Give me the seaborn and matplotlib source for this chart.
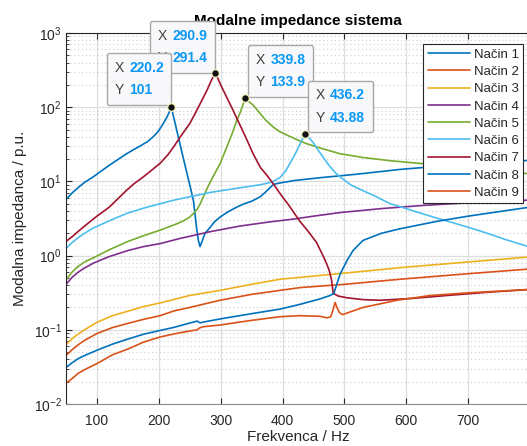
import matplotlib
matplotlib.use("Agg")
import matplotlib.pyplot as plt
import seaborn as sns
from matplotlib.ticker import LogLocator
from matplotlib.offsetbox import TextArea, HPacker, VPacker, AnnotationBbox

# --- data (frequency in Hz, impedance in p.u.) ---
labels = ["Način 1", "Način 2", "Način 3", "Način 4", "Način 5",
          "Način 6", "Način 7", "Način 8", "Način 9"]

n1_f = [50, 60, 70, 80, 94, 107, 120, 135, 148, 160, 170, 182, 191, 198, 205, 209, 213, 217, 220.2,
        230, 240, 250, 256, 261, 264, 266.7, 270.4, 274.8, 283, 290, 299, 312, 326, 338, 350, 364,
        375, 385, 395, 420, 460, 520, 590, 660, 740, 800]
n1_z = [5.7, 7.0, 8.3, 9.7, 11.5, 13.8, 16.5, 20, 23.6, 27, 30, 34.5, 40, 46, 56, 64, 73, 86, 101,
        45, 20, 9, 5.5, 2.4, 1.6, 1.32, 1.6, 2.0, 2.4, 2.85, 3.3, 3.9, 4.5, 5.0, 5.4, 6.2,
        7.5, 9.1, 9.5, 10.3, 11.2, 12.5, 14.5, 16.2, 18, 19.2]

n2_f = [50, 60, 70, 80, 100, 125, 150, 175, 202, 225, 250, 299, 350, 396, 428, 500, 590, 700, 800]
n2_z = [0.045, 0.054, 0.063, 0.072, 0.089, 0.107, 0.122, 0.138, 0.155, 0.18, 0.2, 0.25, 0.3, 0.34,
        0.37, 0.41, 0.48, 0.57, 0.66]

n3_f = [50, 60, 70, 80, 100, 125, 150, 175, 202, 250, 299, 350, 396, 500, 600, 700, 800]
n3_z = [0.063, 0.076, 0.088, 0.1, 0.126, 0.155, 0.178, 0.205, 0.23, 0.29, 0.34, 0.41, 0.48, 0.58,
        0.7, 0.82, 0.96]

n4_f = [50, 60, 70, 80, 94, 120, 150, 175, 202, 234, 260, 283, 331, 380, 417, 450, 493, 560, 628,
        700, 800]
n4_z = [0.41, 0.51, 0.6, 0.68, 0.79, 0.97, 1.17, 1.32, 1.45, 1.7, 1.9, 2.1, 2.5, 2.85, 3.1, 3.4,
        3.8, 4.3, 4.75, 5.15, 5.6]

n5_f = [50, 60, 70, 80, 94, 120, 150, 175, 202, 230, 240, 250, 256, 262, 267, 272, 278, 285, 292,
        299, 305, 312, 319, 326, 331, 335, 339.8, 343, 346, 353, 358, 364, 372, 385, 395, 410, 425,
        440, 465, 493, 530, 574, 628, 700, 750, 800]
n5_z = [0.47, 0.6, 0.72, 0.82, 0.93, 1.2, 1.55, 1.85, 2.2, 2.7, 2.95, 3.3, 3.7, 4.2, 5.0, 6.2, 8,
        10.5, 13.5, 17.3, 23, 32, 45, 66, 82, 102, 133.9, 124, 118, 106, 94, 82, 68, 54, 47, 41, 36,
        32, 27.5, 23.6, 21, 19, 17.3, 15.3, 14, 12.6]

n6_f = [50, 60, 70, 80, 94, 110, 130, 150, 175, 202, 225, 250, 283, 331, 364, 383, 396, 405, 412,
        420, 425, 430, 436.2, 441, 445, 450, 458, 466, 475, 485, 493, 510, 530, 547, 574, 600, 620,
        655, 680, 708, 735, 760, 800]
n6_z = [1.25, 1.5, 1.75, 2.0, 2.35, 2.7, 3.2, 3.75, 4.35, 5.0, 5.6, 6.2, 7.1, 8.2, 9.0, 9.8, 11.3,
        13.8, 17.5, 23, 28, 34, 43.88, 40, 37, 33, 26, 21, 16.5, 13.2, 11.5, 9, 7.5, 6.5, 5.0, 4.3,
        3.8, 3.1, 2.7, 2.3, 1.95, 1.65, 1.3]

n7_f = [50, 60, 72, 85, 100, 120, 148, 160, 175, 190, 202, 215, 225, 234, 250, 258, 267, 278, 284,
        290.9, 295, 300, 310, 320, 331, 342, 352, 364, 375, 385, 398, 410, 428, 440, 455, 468, 475,
        479, 482, 490, 504, 530, 558, 610, 666, 730, 800]
n7_z = [1.55, 1.8, 2.2, 2.7, 3.4, 4.5, 7.6, 9.3, 11.5, 14.5, 17.5, 23, 30, 39, 60, 80, 112, 170,
        220, 291.4, 250, 200, 135, 91, 58, 37, 24, 15.5, 12, 9.3, 6.5, 4.8, 2.9, 2.2, 1.5, 0.9, 0.65,
        0.48, 0.31, 0.285, 0.27, 0.255, 0.25, 0.265, 0.29, 0.32, 0.35]

n8_f = [50, 60, 70, 80, 100, 125, 150, 175, 202, 225, 240, 262, 267, 272, 299, 350, 396, 428, 460,
        477, 483, 488, 493, 504, 514, 530, 560, 590, 650, 700, 800]
n8_z = [0.031, 0.036, 0.041, 0.045, 0.053, 0.064, 0.075, 0.087, 0.098, 0.108, 0.117, 0.131, 0.124,
        0.127, 0.14, 0.165, 0.19, 0.22, 0.26, 0.29, 0.31, 0.42, 0.56, 0.85, 1.17, 1.6, 2.0, 2.3,
        2.9, 3.4, 4.5]

n9_f = [50, 60, 70, 80, 100, 125, 150, 175, 202, 225, 240, 262, 266, 272, 299, 350, 396, 428, 460,
        472, 478, 482, 485, 488, 492, 497, 510, 530, 585, 639, 700, 800]
n9_z = [0.019, 0.022, 0.026, 0.029, 0.035, 0.046, 0.055, 0.068, 0.08, 0.088, 0.093, 0.1, 0.106,
        0.11, 0.116, 0.134, 0.15, 0.155, 0.152, 0.145, 0.15, 0.19, 0.234, 0.2, 0.17, 0.16, 0.175,
        0.2, 0.25, 0.29, 0.315, 0.35]

# data tips shown on the chart
tip_f = [220.2, 290.9, 339.8, 436.2]
tip_z = [101, 291.4, 133.9, 43.88]

curves = [(n1_f, n1_z), (n2_f, n2_z), (n3_f, n3_z), (n4_f, n4_z), (n5_f, n5_z),
          (n6_f, n6_z), (n7_f, n7_z), (n8_f, n8_z), (n9_f, n9_z)]
colors = ["#0072BD", "#D95319", "#EDB120", "#7E2F8E", "#77AC30",
          "#4DBEEE", "#A2142F", "#0072BD", "#D95319"]
ink = "#262626"
tip_blue = "#0a97f5"

sns.set_style("white")
plt.rcParams["font.family"] = ["Liberation Sans", "DejaVu Sans"]
plt.rcParams["mathtext.fontset"] = "custom"
plt.rcParams["mathtext.rm"] = "Liberation Sans"

fig = plt.figure(figsize=(5.27, 4.46), dpi=100)
ax = fig.add_axes([0.1252, 0.0942, 0.8805, 0.8318])

for (f, z), lab, c in zip(curves, labels, colors):
    sns.lineplot(x=f, y=z, ax=ax, color=c, lw=1.2, label=lab, sort=False,
                 estimator=None)

ax.set_yscale("log")
ax.set_xlim(50, 800)
ax.set_ylim(1e-2, 1e3)
ax.set_xticks([100, 200, 300, 400, 500, 600, 700])
ax.yaxis.set_major_locator(LogLocator(base=10, numticks=10))
ax.yaxis.set_minor_locator(LogLocator(base=10, subs=range(2, 10), numticks=20))

ax.grid(True, which="major", color="#dedede", lw=0.9)
ax.grid(True, which="minor", axis="y", color="#cfcfcf", lw=0.8, linestyle=(0, (1, 2.5)))
ax.set_axisbelow(True)

ax.tick_params(axis="both", which="both", direction="in", colors=ink, labelsize=10,
               top=True, left=True, bottom=True, right=False)
ax.tick_params(axis="x", which="major", length=4, pad=7)
ax.tick_params(axis="y", which="major", length=4, pad=3)
ax.tick_params(axis="y", which="minor", length=2.5)
for side in ["left", "top", "bottom"]:
    ax.spines[side].set_color(ink)
    ax.spines[side].set_linewidth(0.8)
ax.spines["bottom"].set_color("#8c8c8c")
ax.spines["right"].set_visible(False)

ax.set_title("Modalne impedance sistema", fontsize=11, fontweight="bold", color="black", pad=6)
ax.set_xlabel("Frekvenca / Hz", fontsize=11, color=ink, labelpad=1.5)
ax.set_ylabel("Modalna impedanca / p.u.", fontsize=11, color=ink, labelpad=5)

leg = ax.legend(loc="upper left", bbox_to_anchor=(423 / 527, 1 - 44 / 446),
                bbox_transform=fig.transFigure, frameon=True, fancybox=False,
                edgecolor=ink, framealpha=1, fontsize=9.5, handlelength=3.2,
                handletextpad=0.3, labelspacing=0.38, borderpad=0.35, borderaxespad=0)
leg.get_frame().set_linewidth(0.8)
leg.set_zorder(6)

# data tips: boxes to the upper left for the first two, upper right for the others;
# the first box sits on top of the second one, as in the original
corner = [(1, 0), (1, 0), (0, 0), (0, 0)]
shift = [(-5.5, 7), (-5.5, 5.5), (7.5, 6), (7.5, 6.5)]
layer = [12, 10, 10, 10]
for x, y, al, sh, zo in zip(tip_f, tip_z, corner, shift, layer):
    rows = []
    for name, val in (("X", x), ("Y", y)):
        rows.append(HPacker(children=[
            TextArea(name, textprops=dict(color="#404040", size=10)),
            TextArea(f"{val:.4g}", textprops=dict(color=tip_blue, size=10, weight="bold"))],
            align="baseline", pad=0, sep=4))
    box = VPacker(children=rows, align="left", pad=0, sep=6)
    ab = AnnotationBbox(box, (x, y), xybox=sh, xycoords="data", boxcoords="offset points",
                        box_alignment=al, pad=0.55, frameon=True, annotation_clip=False,
                        bboxprops=dict(boxstyle="round,pad=0.55,rounding_size=0.15",
                                       fc="#f8f8fb", ec="#a8a8a8", lw=1))
    ab.set_zorder(zo)
    ax.add_artist(ab)

ax.plot(tip_f, tip_z, "o", color="#111111", mec="#f6f2c0", mew=0.9, ms=5.5,
        zorder=13, clip_on=False)

fig.savefig("out.png", dpi=100)
